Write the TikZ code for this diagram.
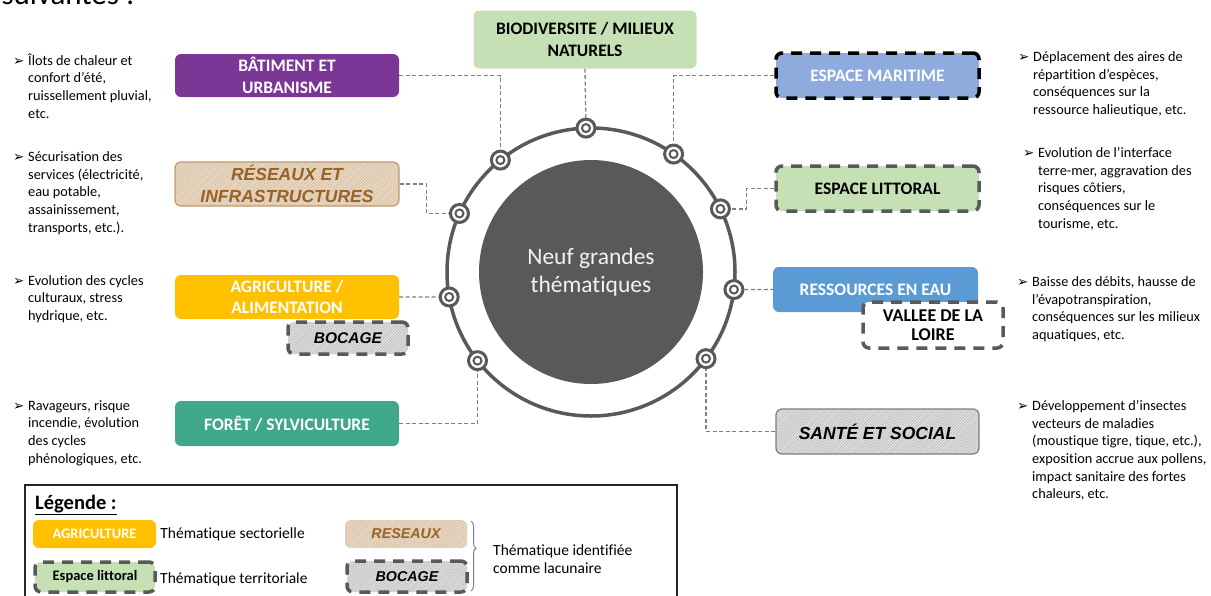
\documentclass[tikz,border=0pt]{standalone}
\usepackage{fontspec}
\setmainfont{Carlito}[Ligatures=NoCommon]
\newfontfamily\arialfont{Liberation Sans}
\newfontfamily\symfont{DejaVu Sans}
\usepackage{tikz}
\usetikzlibrary{positioning}
\usetikzlibrary{backgrounds}
\usetikzlibrary{patterns.meta}
\usetikzlibrary{decorations.pathreplacing}

\definecolor{batcol}{RGB}{122,55,150}
\definecolor{agricol}{RGB}{255,192,0}
\definecolor{foretcol}{RGB}{64,168,138}
\definecolor{biocol}{RGB}{197,224,180}
\definecolor{marcol}{RGB}{143,170,220}
\definecolor{eaucol}{RGB}{91,155,213}
\definecolor{anneau}{RGB}{89,89,89}
\definecolor{tanfond}{RGB}{236,222,204}
\definecolor{tantrait}{RGB}{206,178,144}
\definecolor{tanbord}{RGB}{196,150,105}
\definecolor{tantexte}{RGB}{152,98,40}
\definecolor{grisfond}{RGB}{226,226,226}
\definecolor{gristrait}{RGB}{178,178,178}
\definecolor{tirets}{RGB}{127,127,127}
\definecolor{blanc}{RGB}{242,242,242}

\newcommand{\themefont}{\bfseries\fontsize{17.5}{21.5}\selectfont}
\newcommand{\lacfont}{\arialfont\bfseries\itshape\fontsize{17.5}{22}\selectfont}
\newcommand{\notefont}{\fontsize{14.3}{17.6}\selectfont}
\newcommand{\legfont}{\fontsize{15.5}{18}\selectfont}
\newcommand{\puce}{\rule{0pt}{12pt}\makebox[15pt][l]{\symfont\fontsize{13.5}{13.5}\selectfont ➢}}
\newcommand{\retrait}{\hspace*{15pt}}

\begin{document}
\begin{tikzpicture}[
            x = 1pt, y = -1pt, % pixel grid, y going down
            theme/.style = {rounded corners=6pt, align=center, inner sep=2pt, font=\themefont, text=white},
            lacune/.style = {font=\lacfont},
            hachbrun/.style = {preaction={fill=tanfond}, pattern={Lines[angle=45,distance=2pt,line width=0.5pt]}, pattern color=tantrait},
            hachgris/.style = {preaction={fill=grisfond}, pattern={Lines[angle=45,distance=2pt,line width=0.5pt]}, pattern color=gristrait},
            territoire/.style = {draw=anneau, line width=3.5pt, dash pattern=on 11pt off 8pt},
            lien/.style = {draw=tirets, line width=1.3pt, dash pattern=on 4pt off 2.5pt},
            repere/.style = {circle, draw=anneau, line width=3pt, fill=white, minimum size=18pt, inner sep=0pt,
                path picture={\draw[anneau, line width=2pt] (path picture bounding box.center) circle (4pt);}},
            note/.style = {anchor=north west, align=left, inner sep=0pt, font=\notefont},
            accolade/.style = {decorate, decoration={brace, amplitude=5pt, aspect=0.39}, draw=tirets, line width=1pt}
            ]

        \path[use as bounding box, clip] (0,0) rectangle (1211,595);

        \node[anchor=base west, font=\fontsize{31}{31}\selectfont] (suite) at (-2,4) {suivantes :};

        % centre
        \node[circle, fill=anneau, minimum size=224pt, inner sep=0pt, text=blanc, align=center,
              font=\fontsize{23.5}{28.5}\selectfont] (coeur) at (591,272) {Neuf grandes\\thématiques};
        \node[circle, draw=anneau, line width=3.5pt, minimum size=288pt, inner sep=0pt, outer sep=0pt] (cercle) at (coeur) {};

        % markers on the ring
        \node[repere] (m1) at (cercle.92) {};
        \node[repere] (m2) at (cercle.129) {};
        \node[repere] (m3) at (cercle.55) {};
        \node[repere] (m4) at (cercle.156) {};
        \node[repere] (m5) at (cercle.26) {};
        \node[repere] (m6) at (cercle.190) {};
        \node[repere] (m7) at (cercle.353) {};
        \node[repere] (m8) at (cercle.218) {};
        \node[repere] (m9) at (cercle.323) {};

        % sector themes, left
        \node[theme, fill=batcol, minimum width=224pt, minimum height=43pt] (bat) at (287,75.5) {BÂTIMENT ET\\URBANISME};
        \node[theme, lacune, hachbrun, draw=tanbord, line width=1.2pt, text=tantexte, minimum width=224pt, minimum height=44pt] (res) at (287,184) {RÉSEAUX ET\\INFRASTRUCTURES};
        \node[theme, fill=agricol, minimum width=224pt, minimum height=44pt] (agri) at (287,297) {AGRICULTURE /\\ALIMENTATION};
        \node[theme, lacune, hachgris, territoire, text=black, minimum width=120pt, minimum height=32pt,
              font=\arialfont\bfseries\itshape\fontsize{15.5}{18}\selectfont] (boc) at (348,338) {BOCAGE};
        \node[theme, fill=foretcol, minimum width=224pt, minimum height=45pt] (foret) at (287,423.5) {FORÊT / SYLVICULTURE};

        % top
        \node[theme, fill=biocol, text=black, minimum width=223pt, minimum height=58pt] (bio) at (585,39.5) {BIODIVERSITE / MILIEUX\\NATURELS};

        % right
        \node[theme, territoire, draw=black, fill=marcol, minimum width=203pt, minimum height=45pt] (mar) at (877.5,75.5) {ESPACE MARITIME};
        \node[theme, territoire, fill=biocol, text=black, minimum width=203pt, minimum height=45pt] (lit) at (877.5,188.5) {ESPACE LITTORAL};
        \node[theme, fill=eaucol, minimum width=205pt, minimum height=45pt] (eau) at (875.5,289.5) {RESSOURCES EN EAU};
        \node[theme, territoire, fill=white, text=black, minimum width=140pt, minimum height=46pt,
              font=\bfseries\fontsize{18}{19}\selectfont] (loire) at (933,325) {VALLEE DE LA\\LOIRE};
        \node[theme, lacune, hachgris, draw=gristrait!70!black, line width=1.2pt, text=black, minimum width=203pt, minimum height=45pt] (sante) at (877.5,431.5) {SANTÉ ET SOCIAL};

        % dashed links
        \begin{scope}[on background layer]
            \draw[lien] (bat.east) -| (m2);
            \draw[lien] (bio.south) -- (m1);
            \draw[lien] (mar.west) -| (m3);
            \draw[lien] (res.east) -- ++(27,0) |- (m4);
            \draw[lien] (lit.west) -- ++(-28,0) |- (m5);
            \draw[lien] (agri.east) -- (m6);
            \draw[lien] (m7) -- (eau.west);
            \draw[lien] (foret.east) -| (m8);
            \draw[lien] (sante.west) -| (m9);
        \end{scope}

        % impacts, left
        \node[note] (n1) at (13,53) {\puce Îlots de chaleur et\\\retrait confort d’été,\\\retrait ruissellement pluvial,\\\retrait etc.};
        \node[note] (n2) at (13,149.5) {\puce Sécurisation des\\\retrait services (électricité,\\\retrait eau potable,\\\retrait assainissement,\\\retrait transports, etc.).};
        \node[note] (n3) at (13,273) {\puce Evolution des cycles\\\retrait culturaux, stress\\\retrait hydrique, etc.};
        \node[note] (n4) at (13,398) {\puce Ravageurs, risque\\\retrait incendie, évolution\\\retrait des cycles\\\retrait phénologiques, etc.};

        % impacts, right
        \node[note] (n5) at (1018,49.5) {\puce Déplacement des aires de\\\retrait répartition d’espèces,\\\retrait conséquences sur la\\\retrait ressource halieutique, etc.};
        \node[note] (n6) at (1023,145.5) {\puce Evolution de l’interface\\\retrait terre-mer, aggravation des\\\retrait risques côtiers,\\\retrait conséquences sur le\\\retrait tourisme, etc.};
        \node[note] (n7) at (1017,274.5) {\puce Baisse des débits, hausse de\\\retrait l’évapotranspiration,\\\retrait conséquences sur les milieux\\\retrait aquatiques, etc.};
        \node[note] (n8) at (1017,398.5) {\puce Développement d’insectes\\\retrait vecteurs de maladies\\\retrait (moustique tigre, tique, etc.),\\\retrait exposition accrue aux pollens,\\\retrait impact sanitaire des fortes\\\retrait chaleurs, etc.};

        % legend
        \draw[line width=1.3pt, draw=black!85] (25,485) rectangle (677,620);
        \node[anchor=base west, inner sep=0pt, font=\bfseries\fontsize{20.5}{24}\selectfont] (titre) at (35,509) {\underline{Légende :}};
        \node[theme, fill=agricol, minimum width=123pt, minimum height=28pt, font=\bfseries\fontsize{14.5}{17}\selectfont] (lagri) at (94.5,534) {AGRICULTURE};
        \node[theme, territoire, fill=biocol, text=black, minimum width=120pt, minimum height=30pt,
              font=\bfseries\fontsize{14.5}{17}\selectfont] (llit) at (95,577) {Espace littoral};
        \node[font=\legfont, inner sep=0pt, right=4pt of lagri] (tsect) {Thématique sectorielle};
        \node[font=\legfont, inner sep=0pt, anchor=west] (tterr) at (160,579) {Thématique territoriale};
        \node[theme, hachbrun, text=tantexte, minimum width=122pt, minimum height=28pt,
              font=\arialfont\bfseries\itshape\fontsize{14.3}{17}\selectfont] (lres) at (406,534) {RESEAUX};
        \node[theme, hachgris, territoire, text=black, minimum width=120pt, minimum height=31pt,
              font=\arialfont\bfseries\itshape\fontsize{14.3}{17}\selectfont] (lboc) at (407,576.5) {BOCAGE};
        \coordinate (acc1) at (471,521);
        \coordinate (acc2) at (471,591);
        \draw[accolade] (acc1) -- (acc2);
        \node[font=\legfont, align=left, anchor=west, inner sep=0pt] (tlac) at (493,559) {Thématique identifiée\\comme lacunaire};

\end{tikzpicture}
\end{document}
